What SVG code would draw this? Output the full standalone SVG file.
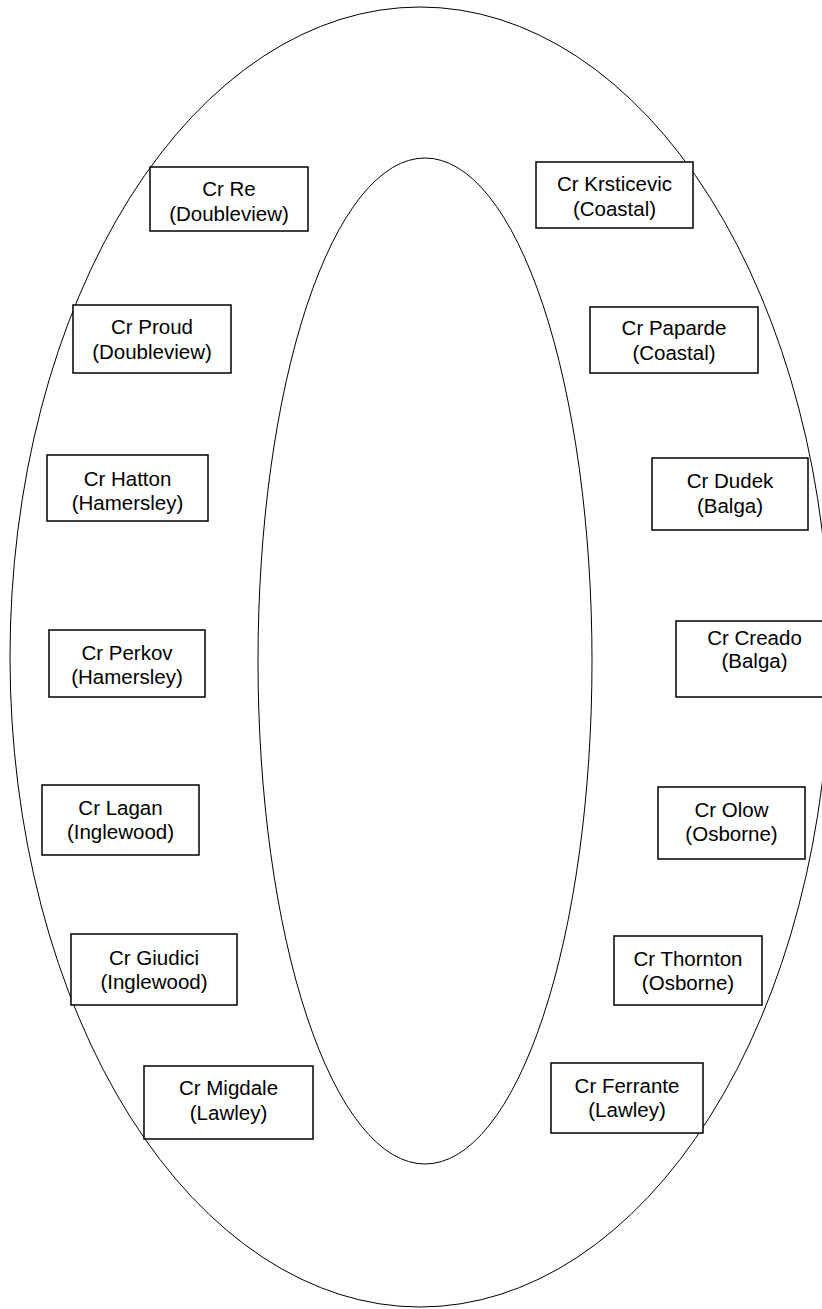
<svg xmlns="http://www.w3.org/2000/svg" width="822" height="1309" viewBox="0 0 822 1309">
<style>
.ring{fill:none;stroke:#000;stroke-width:1}
.box{fill:#fff;stroke:#000;stroke-width:1.5}
text{font-family:"Liberation Sans",Arial,sans-serif;font-size:20.5px;fill:#000;text-anchor:middle}
</style>
<rect width="822" height="1309" fill="#fff"/>
<g id="rings">
<ellipse class="ring" cx="420" cy="657" rx="410" ry="650"/>
<ellipse class="ring" cx="425" cy="661" rx="167" ry="503"/>
</g>
<g id="connectors"></g>
<g id="re"><rect class="box" x="150" y="167" width="158" height="64"/><text x="229" y="196">Cr Re</text><text x="229" y="221">(Doubleview)</text></g>
<g id="krsticevic"><rect class="box" x="536" y="162" width="157" height="66"/><text x="614.5" y="191">Cr Krsticevic</text><text x="614.5" y="216">(Coastal)</text></g>
<g id="proud"><rect class="box" x="73" y="305" width="158" height="68"/><text x="152" y="334">Cr Proud</text><text x="152" y="359">(Doubleview)</text></g>
<g id="paparde"><rect class="box" x="590" y="307" width="168" height="66"/><text x="674" y="335">Cr Paparde</text><text x="674" y="360">(Coastal)</text></g>
<g id="hatton"><rect class="box" x="47" y="455" width="161" height="66"/><text x="127.5" y="486">Cr Hatton</text><text x="127.5" y="510">(Hamersley)</text></g>
<g id="dudek"><rect class="box" x="652" y="458" width="156" height="72"/><text x="730" y="488">Cr Dudek</text><text x="730" y="513">(Balga)</text></g>
<g id="perkov"><rect class="box" x="49" y="630" width="156" height="67"/><text x="127" y="660">Cr Perkov</text><text x="127" y="684">(Hamersley)</text></g>
<g id="creado"><rect class="box" x="676" y="621" width="157" height="76"/><text x="754.5" y="645">Cr Creado</text><text x="754.5" y="668">(Balga)</text></g>
<g id="lagan"><rect class="box" x="42" y="785" width="157" height="70"/><text x="120.5" y="815">Cr Lagan</text><text x="120.5" y="839">(Inglewood)</text></g>
<g id="olow"><rect class="box" x="658" y="787" width="147" height="72"/><text x="731.5" y="817">Cr Olow</text><text x="731.5" y="841">(Osborne)</text></g>
<g id="giudici"><rect class="box" x="71" y="934" width="166" height="71"/><text x="154" y="965">Cr Giudici</text><text x="154" y="989">(Inglewood)</text></g>
<g id="thornton"><rect class="box" x="614" y="936" width="148" height="69"/><text x="688" y="966">Cr Thornton</text><text x="688" y="990">(Osborne)</text></g>
<g id="migdale"><rect class="box" x="144" y="1066" width="169" height="73"/><text x="228.5" y="1095">Cr Migdale</text><text x="228.5" y="1120">(Lawley)</text></g>
<g id="ferrante"><rect class="box" x="551" y="1063" width="152" height="70"/><text x="627" y="1093">Cr Ferrante</text><text x="627" y="1117">(Lawley)</text></g>
</svg>
